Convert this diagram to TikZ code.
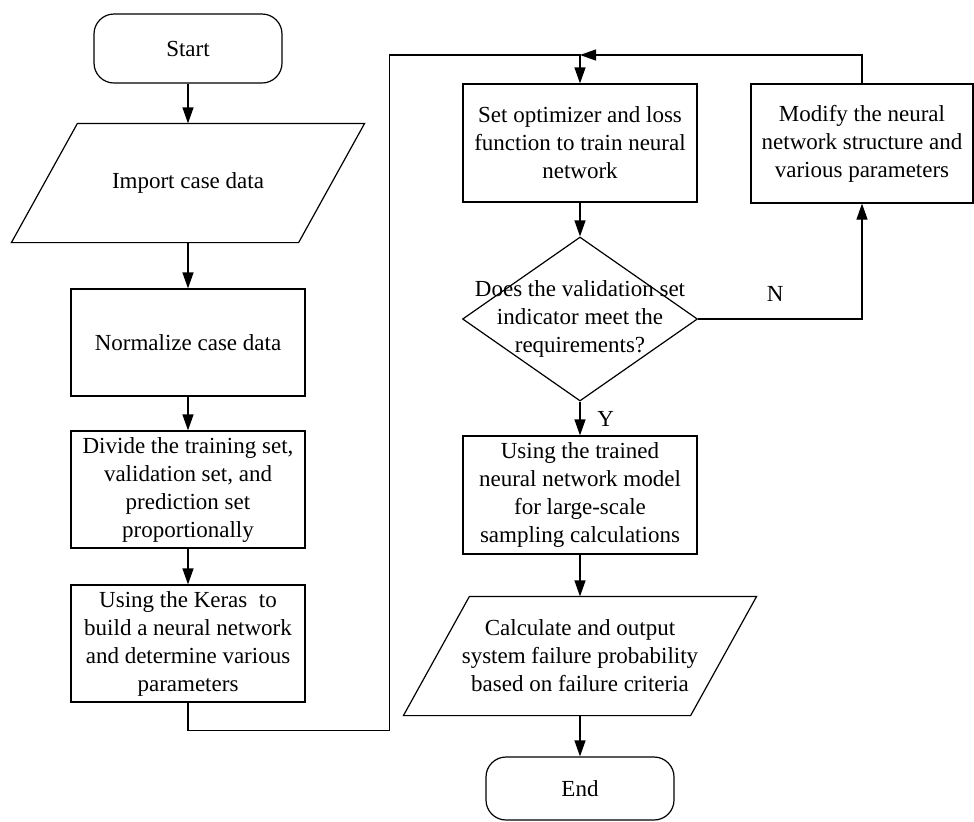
\documentclass[tikz,border=0pt]{standalone}
\usepackage{fontspec}
\setmainfont{Liberation Serif}
\usetikzlibrary{shapes.geometric,arrows.meta,calc}

% slanted input/output box drawn round a text node
\newcommand{\slantbox}[2]{\draw ($(#1.north west)+(#2,0)$) -- ($(#1.north east)+(#2,0)$) -- ($(#1.south east)-(#2,0)$) -- ($(#1.south west)-(#2,0)$) -- cycle;}

\begin{document}
\begin{tikzpicture}[x=0.5pt,y=-0.5pt,
  font=\fontsize{11.5}{14}\selectfont,
  line width=0.6pt,
  proc/.style={draw,rectangle,minimum width=117pt,minimum height=59pt,align=center,inner sep=1pt},
  term/.style={draw,rectangle,rounded corners=10pt,minimum width=94pt,minimum height=34.5pt},
  iobox/.style={rectangle,minimum width=143pt,minimum height=59pt,align=center,inner sep=0pt},
  decide/.style={draw,diamond,minimum width=117.5pt,minimum height=82pt,inner sep=0pt},
  arr/.style={-{Triangle[length=8pt,width=5.5pt]}}]
\useasboundingbox (0,0) rectangle (974,821);

% left column
\node[term] (start) at (188,48.5) {Start};
\node[iobox] (imp) at (188,183) {Import case data};
\slantbox{imp}{33}
\node[proc,minimum height=53.5pt] (norm) at (188,342.5) {Normalize case data};
\node[proc,minimum height=58.5pt] (div) at (188,489.5) {Divide the training set,\\validation set, and\\prediction set\\proportionally};
\node[proc,minimum height=58.5pt] (keras) at (188,643.5) {Using the Keras\ \ to\\build a neural network\\and determine various\\parameters};

% right column
\node[proc] (opt) at (580,143) {Set optimizer and loss\\function to train neural\\network};
\node[decide] (dec) at (580,319) {};
\node[align=center,inner sep=0pt] (dectext) at (dec.center) {Does the validation set\\indicator meet the\\requirements?};
\node[proc,minimum width=111pt,minimum height=59.5pt] (modify) at (862,143.5) {Modify the neural\\network structure and\\various parameters};
\node[proc] (using) at (580,495) {Using the trained\\neural network model\\for large-scale\\sampling calculations};
\node[iobox] (calc) at (580,656) {Calculate and output\\system failure probability\\based on failure criteria};
\slantbox{calc}{33}
\node[term,minimum height=31.5pt] (end) at (580,788.5) {End};

% connectors
\coordinate (bl) at (389.5,730.5);
\coordinate (join) at (580,55);
\draw[arr] (start.south) -- (imp.north);
\draw[arr] (imp.south) -- (norm.north);
\draw[arr] (norm.south) -- (div.north);
\draw[arr] (div.south) -- (keras.north);
\draw[arr] (keras.south) |- (bl) |- (join) -- (opt.north);
\draw[arr] (modify.north) |- (join);
\draw[arr] (opt.south) -- (dec.north);
\draw[arr] (dec.east) -| (modify.south) node[pos=0.235,above=5pt] {N};
\draw[arr] (dec.south) -- (using.north) node[midway,right=5pt] {Y};
\draw[arr] (using.south) -- (calc.north);
\draw[arr] (calc.south) -- (end.north);
\end{tikzpicture}
\end{document}
